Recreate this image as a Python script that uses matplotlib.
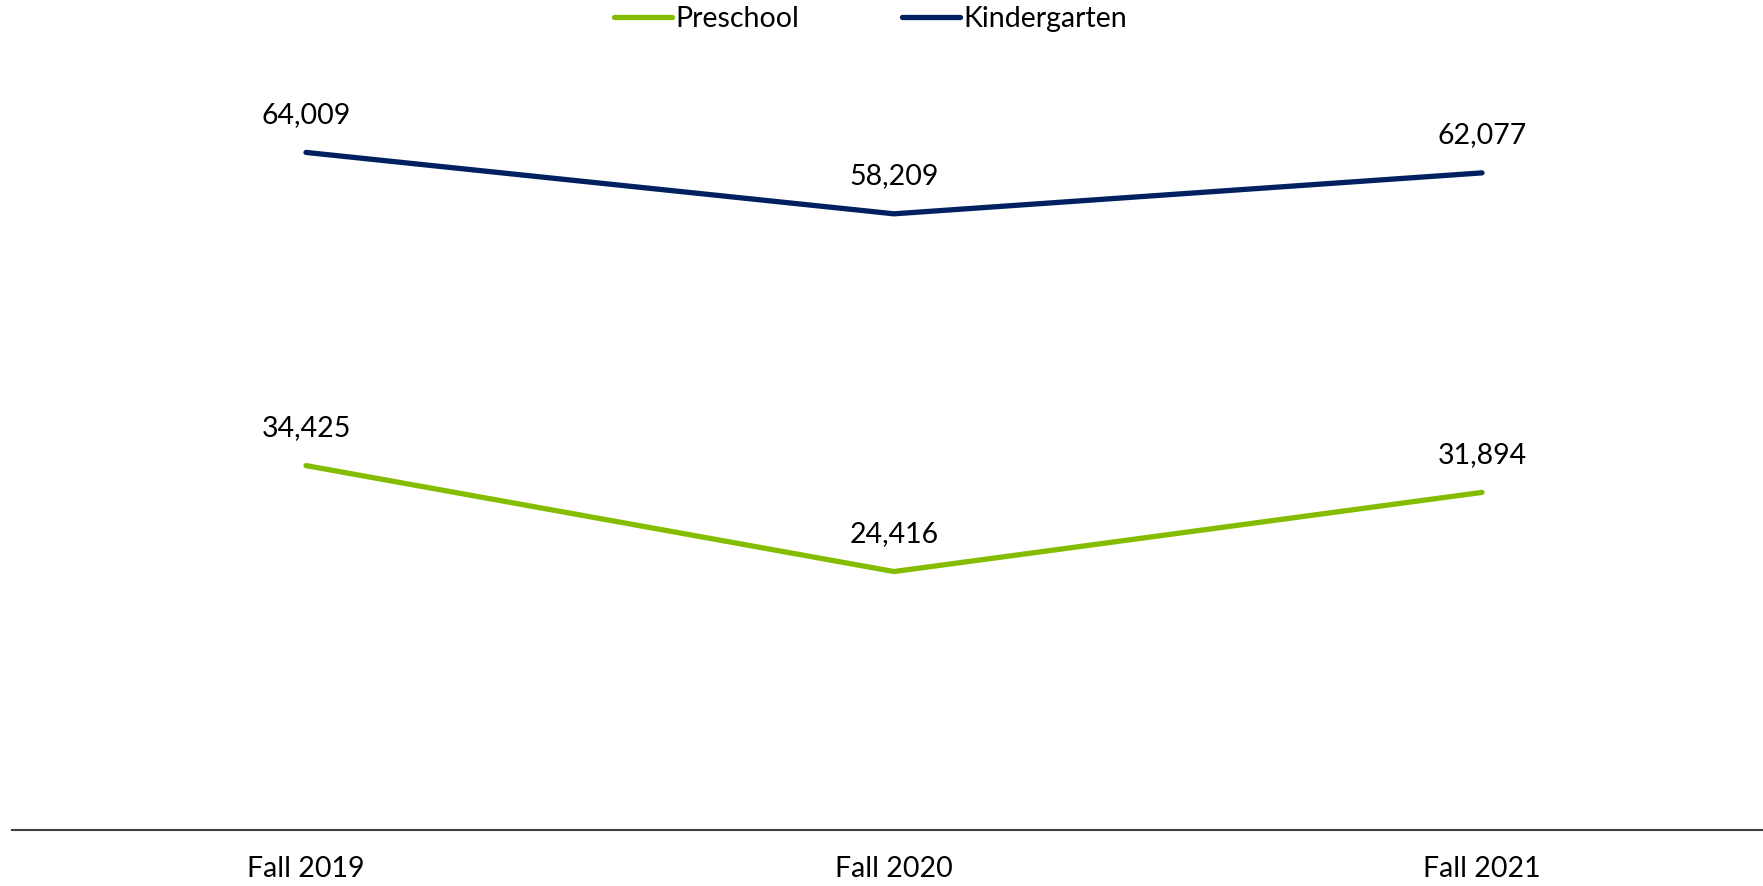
import matplotlib.pyplot as plt

plt.rcParams['font.family'] = ['Lato', 'DejaVu Sans']

# data
years = ['Fall 2019', 'Fall 2020', 'Fall 2021']
preschool = [34425, 24416, 31894]
kindergarten = [64009, 58209, 62077]

fig = plt.figure(figsize=(17.63, 8.86), dpi=100)
ax = fig.add_axes([12 / 1763, 56 / 886, 1764 / 1763, 741 / 886])

x = range(len(years))
ax.plot(x, preschool, color='#84bd00', lw=3.8, solid_capstyle='round', label='Preschool')
ax.plot(x, kindergarten, color='#002060', lw=3.8, solid_capstyle='round', label='Kindergarten')

# value labels above points
for series in (preschool, kindergarten):
    for i, v in enumerate(series):
        ax.annotate(f'{v:,}', (i, v), xytext=(0, 27), textcoords='offset points',
                    ha='center', va='center', fontsize=20.5, color='black')

ax.set_xlim(-0.5, 2.5)
ax.set_ylim(0, 70000)
ax.set_xticks(list(x))
ax.set_xticklabels(years, fontsize=20.5)
ax.tick_params(axis='x', length=0, pad=19)
ax.set_yticks([])
for s in ['top', 'right', 'left']:
    ax.spines[s].set_visible(False)
ax.spines['bottom'].set_color('#404040')
ax.spines['bottom'].set_linewidth(1.5)

fig.legend(loc='upper center', bbox_to_anchor=(0.4937, 1.022), ncol=2, frameon=False,
           fontsize=20.5, handlelength=2.05, handletextpad=0.12, columnspacing=3.6)

fig.savefig('out.png', dpi=100)
